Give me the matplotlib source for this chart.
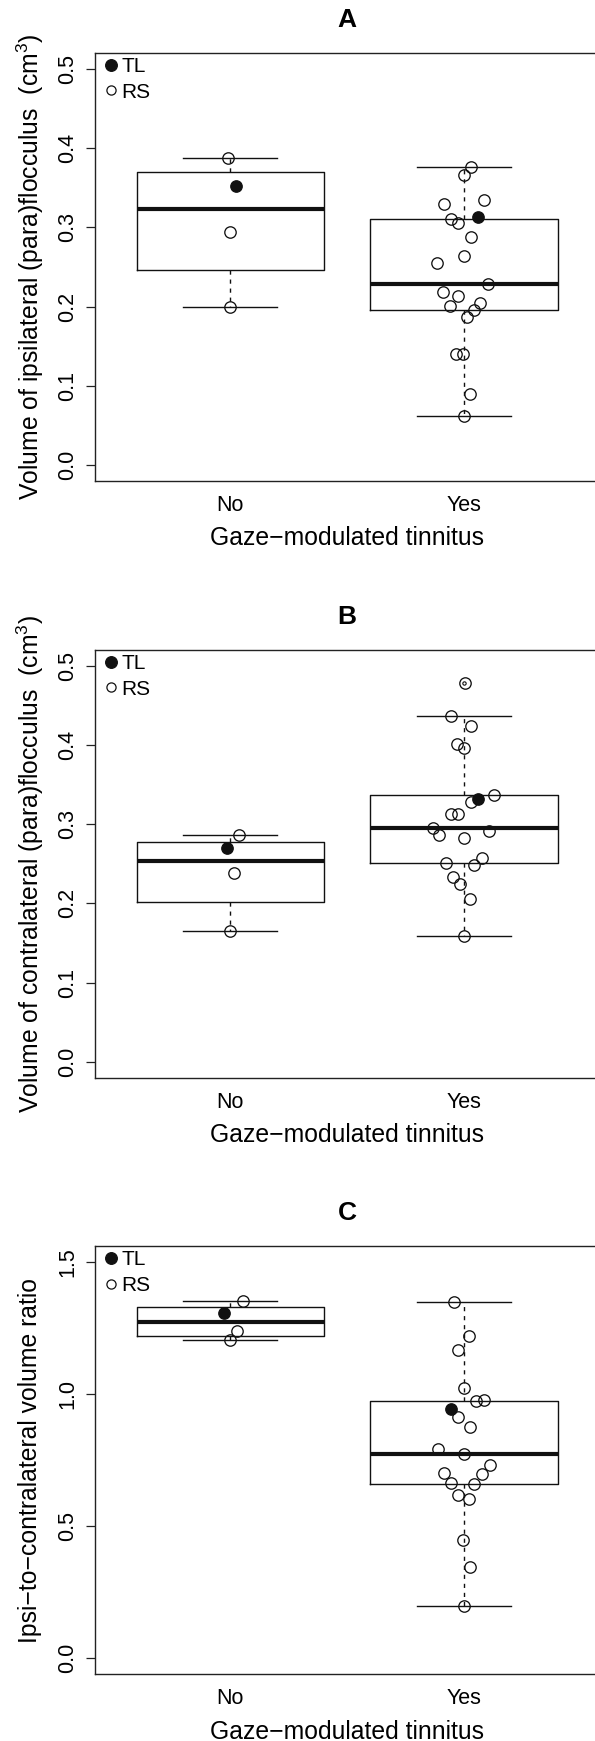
import numpy as np
import matplotlib
matplotlib.use('Agg')
import matplotlib.pyplot as plt
from matplotlib.lines import Line2D

plt.rcParams['font.family'] = ['Liberation Sans', 'DejaVu Sans']
plt.rcParams['mathtext.fontset'] = 'custom'
plt.rcParams['mathtext.rm'] = 'Liberation Sans'
plt.rcParams['mathtext.it'] = 'Liberation Sans:italic'
plt.rcParams['mathtext.bf'] = 'Liberation Sans:bold'

# ---------------- data ----------------
categories = ['No', 'Yes']
xlabel_text = 'Gaze\u2212modulated tinnitus'
panel_titles = ['A', 'B', 'C']
ylabels = ['Volume of ipsilateral (para)flocculus  (cm$^3$)',
           'Volume of contralateral (para)flocculus  (cm$^3$)',
           'Ipsi\u2212to\u2212contralateral volume ratio']
legend_labels = ['TL', 'RS']

# Panel A: ipsilateral volume
ipsi_no = [0.3874, 0.3527, 0.2937, 0.1991]
ipsi_no_jit = [-0.008, 0.024, 0.0, 0.0]
ipsi_no_tl = [0, 1, 0, 0]
ipsi_yes = [0.3762, 0.3658, 0.3343, 0.3289, 0.3126, 0.3099, 0.3050, 0.2879, 0.2640,
            0.2550, 0.2289, 0.2180, 0.2131, 0.2005, 0.2045, 0.1960, 0.1870, 0.1397,
            0.1397, 0.0892, 0.0617]
ipsi_yes_jit = [0.029, 0.0, 0.086, -0.084, 0.058, -0.057, -0.024, 0.029, 0.0,
                -0.117, 0.102, -0.089, -0.024, -0.060, 0.070, 0.042, 0.013, -0.036,
                -0.006, 0.026, 0.0]
ipsi_yes_tl = [0, 0, 0, 0, 1, 0, 0, 0, 0, 0, 0, 0, 0, 0, 0, 0, 0, 0, 0, 0, 0]

# Panel B: contralateral volume
contra_no = [0.2862, 0.2697, 0.2381, 0.1651]
contra_no_jit = [0.037, -0.015, 0.015, 0.0]
contra_no_tl = [0, 1, 0, 0]
contra_yes = [0.4775, 0.4371, 0.4234, 0.4009, 0.3963, 0.3367, 0.3316, 0.3280, 0.3124,
              0.3124, 0.2949, 0.2862, 0.2908, 0.2821, 0.2573, 0.2491, 0.2505, 0.2330,
              0.2239, 0.2060, 0.1583]
contra_yes_jit = [0.003, -0.057, 0.029, -0.031, 0.0, 0.130, 0.058, 0.029, -0.057,
                  -0.024, -0.133, -0.105, 0.105, 0.0, 0.078, 0.045, -0.076, -0.049,
                  -0.019, 0.024, 0.0]
contra_yes_tl = [0, 0, 0, 0, 0, 0, 1, 0, 0, 0, 0, 0, 0, 0, 0, 0, 0, 0, 0, 0, 0]

# Panel C: ipsi-to-contralateral ratio
ratio_no = [1.3538, 1.3064, 1.2374, 1.2049]
ratio_no_jit = [0.057, -0.028, 0.031, 0.0]
ratio_no_tl = [0, 1, 0, 0]
ratio_yes = [1.3484, 1.2198, 1.1670, 1.0235, 0.9747, 0.9788, 0.9422, 0.9138, 0.8773,
             0.7906, 0.7744, 0.7324, 0.6999, 0.6972, 0.6634, 0.6607, 0.6200, 0.6024,
             0.4481, 0.3466, 0.1990]
ratio_yes_jit = [-0.044, 0.021, -0.024, 0.0, 0.053, 0.086, -0.057, -0.024, 0.026,
                 -0.112, 0.0, 0.110, -0.084, 0.078, -0.055, 0.045, -0.024, 0.021,
                 -0.003, 0.024, 0.0]
ratio_yes_tl = [0, 0, 0, 0, 0, 0, 1, 0, 0, 0, 0, 0, 0, 0, 0, 0, 0, 0, 0, 0, 0]

yticks_vol = [0.0, 0.1, 0.2, 0.3, 0.4, 0.5]
yticks_ratio = [0.0, 0.5, 1.0, 1.5]

panels = [
    dict(groups=[(ipsi_no, ipsi_no_jit, ipsi_no_tl), (ipsi_yes, ipsi_yes_jit, ipsi_yes_tl)],
         ylim=(-0.02, 0.52), yticks=yticks_vol),
    dict(groups=[(contra_no, contra_no_jit, contra_no_tl), (contra_yes, contra_yes_jit, contra_yes_tl)],
         ylim=(-0.02, 0.52), yticks=yticks_vol),
    dict(groups=[(ratio_no, ratio_no_jit, ratio_no_tl), (ratio_yes, ratio_yes_jit, ratio_yes_tl)],
         ylim=(-0.06, 1.56), yticks=yticks_ratio),
]


def fivenum(x):
    x = np.sort(np.asarray(x, dtype=float))
    n = len(x)
    n4 = np.floor((n + 3) / 2) / 2
    d = np.array([1, n4, (n + 1) / 2, n + 1 - n4, n]) - 1
    return 0.5 * (x[np.floor(d).astype(int)] + x[np.ceil(d).astype(int)])


def r_boxstats(x):
    x = np.asarray(x, dtype=float)
    s = fivenum(x)
    iqr = s[3] - s[1]
    out = (x < s[1] - 1.5 * iqr) | (x > s[3] + 1.5 * iqr)
    inside = x[~out]
    return dict(med=s[2], q1=s[1], q3=s[3], whislo=inside.min(), whishi=inside.max(),
                fliers=x[out])


# ---------------- figure ----------------
W, H = 595, 1741
fig = plt.figure(figsize=(W / 100, H / 100), dpi=100)

ax_left_px, ax_right_px = 94.5, 599.6
ax_h_px = 428.0
tops_px = [52.9, 649.8, 1246.2]

lw = 1.0
ink = '#111111'
for i, (p, top) in enumerate(zip(panels, tops_px)):
    ax = fig.add_axes([ax_left_px / W, 1 - (top + ax_h_px) / H,
                       (ax_right_px - ax_left_px) / W, ax_h_px / H])
    positions = [1, 2]
    stats = [r_boxstats(g[0]) for g in p['groups']]
    ax.bxp(stats, positions=positions, widths=0.8, showfliers=True, manage_ticks=False,
           boxprops=dict(color=ink, lw=lw),
           medianprops=dict(color=ink, lw=3.0, solid_capstyle='butt'),
           whiskerprops=dict(color=ink, lw=lw, linestyle=(0, (3, 3.5))),
           capprops=dict(color=ink, lw=lw),
           flierprops=dict(marker='o', ms=2.4, mfc='none', mec=ink, mew=0.8))
    for pos, (vals, jit, tl) in zip(positions, p['groups']):
        vals = np.asarray(vals)
        xs = pos + np.asarray(jit)
        tl = np.asarray(tl).astype(bool)
        ax.plot(xs[~tl], vals[~tl], 'o', ms=8.2, mfc='none', mec=ink, mew=0.95, zorder=4)
        ax.plot(xs[tl], vals[tl], 'o', ms=8.2, mfc=ink, mec=ink, mew=0.95, zorder=4)

    ax.set_xlim(0.42, 2.58)
    ax.set_ylim(*p['ylim'])
    ax.set_xticks(positions)
    ax.set_xticklabels(categories, fontsize=15.5)
    ax.set_yticks(p['yticks'])
    ax.set_yticklabels(['%.1f' % v for v in p['yticks']], fontsize=15.5)
    ax.tick_params(axis='x', length=0, pad=17.5)
    ax.tick_params(axis='y', direction='out', length=6.5, width=0.9, pad=12.5, color='#222222')
    for lbl in ax.get_xticklabels():
        lbl.set_va('center')
    for lbl in ax.get_yticklabels():
        lbl.set_rotation(90)
        lbl.set_ha('center')
        lbl.set_va('center')
    for sp in ax.spines.values():
        sp.set_linewidth(1.0)
        sp.set_color('#222222')

    ax.set_xlabel(xlabel_text, fontsize=17.8, va='center')
    ax.xaxis.set_label_coords(0.5, -57.5 / ax_h_px)
    ax.set_ylabel(ylabels[i], fontsize=17.8, va='center')
    ax.yaxis.set_label_coords((30 - ax_left_px) / (ax_right_px - ax_left_px), 0.5)

    ax.text(0.5, 1 + 33 / ax_h_px, panel_titles[i], transform=ax.transAxes,
            ha='center', va='center', fontsize=19, fontweight='bold')

    handles = [Line2D([], [], marker='o', ls='none', ms=8.4, mfc=ink, mec=ink, mew=0.9),
               Line2D([], [], marker='o', ls='none', ms=6.6, mfc='none', mec=ink, mew=0.9)]
    ax.legend(handles, legend_labels, loc='upper left',
              bbox_to_anchor=(9.0 / 505, 1 - 4.0 / ax_h_px),
              frameon=False, fontsize=15, handlelength=0.75, handletextpad=0.12,
              borderaxespad=0, borderpad=0, labelspacing=0.33)

fig.savefig('out.png', dpi=100)
